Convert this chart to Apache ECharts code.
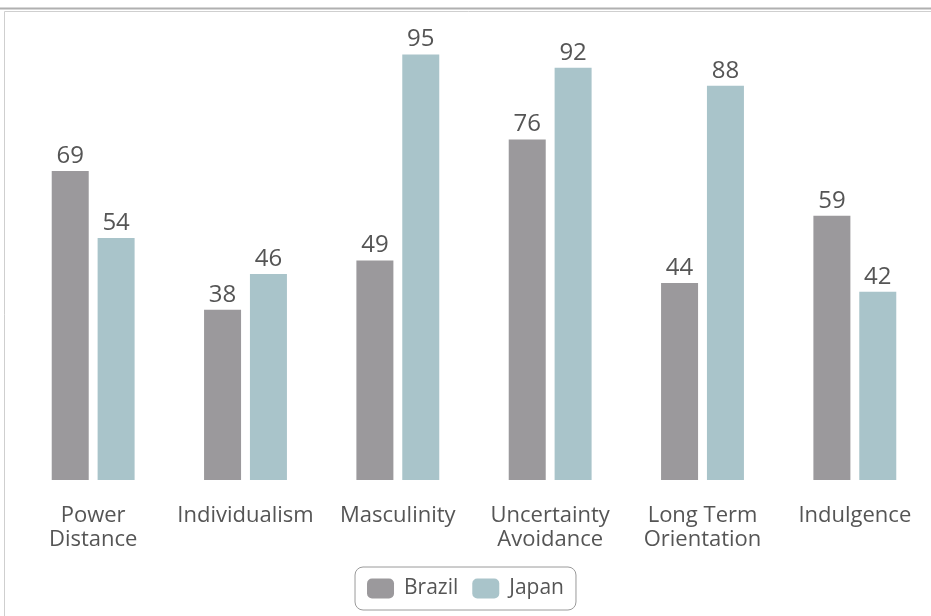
<!DOCTYPE html>
<html><head><meta charset="utf-8">
<script src="https://cdn.jsdelivr.net/npm/echarts@6/dist/echarts.min.js"></script>
<style>html,body{margin:0;padding:0;background:#fff;}#c{width:931px;height:616px;}</style>
</head><body><div id="c"></div>
<script>
const categories = ['Power\nDistance','Individualism','Masculinity','Uncertainty\nAvoidance','Long Term\nOrientation','Indulgence'];
const brazil = [69,38,49,76,44,59];
const japan = [54,46,95,92,88,42];
const chart = echarts.init(document.getElementById('c'));
const font = '"Open Sans", "Noto Sans", sans-serif';
const lbl = {show:true, position:'top', distance:3, color:'#555', fontSize:24, fontFamily:font};
chart.setOption({
  animation:false,
  textStyle:{fontFamily:font},
  graphic:[
    {type:'rect', shape:{x:0,y:7.5,width:931,height:2}, style:{fill:'#b0b0b0'}, silent:true},
    {type:'rect', shape:{x:4.5,y:11.5,width:940,height:640}, style:{fill:'none', stroke:'#cfcfcf', lineWidth:1}, silent:true}
  ],
  grid:{left:17, right:-1, top:32, bottom:136},
  legend:{data:['Brazil','Japan'], bottom:6, left:'center', itemWidth:27, itemHeight:20, itemGap:14,
    padding:[11,12,11,12], borderColor:'#9a9a9a', borderWidth:1, borderRadius:8,
    icon:'roundRect',
    textStyle:{color:'#555', fontSize:21, fontFamily:font, padding:[0,0,0,5]}},
  xAxis:{type:'category', data:categories, axisLine:{show:false}, axisTick:{show:false},
    axisLabel:{color:'#555', fontSize:22, lineHeight:24, margin:24, fontFamily:font, interval:0}},
  yAxis:{type:'value', min:0, max:100, show:false, splitLine:{show:false}},
  series:[
    {name:'Brazil', type:'bar', data:brazil, barWidth:37, barGap:'24%', itemStyle:{color:'#9b999c'}, label:lbl},
    {name:'Japan', type:'bar', data:japan, barWidth:37, itemStyle:{color:'#a9c4ca'}, label:lbl}
  ]
});
</script></body></html>
